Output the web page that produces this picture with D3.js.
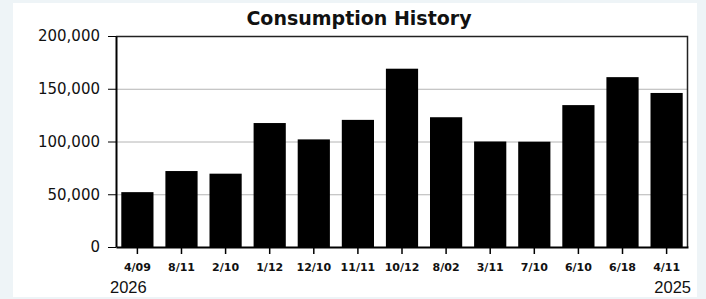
<!DOCTYPE html>
<html>
<head>
<meta charset="utf-8">
<script src="https://cdn.jsdelivr.net/npm/d3@7"></script>
<style>
  body { margin: 0; background: #eef4f7; }
  svg { display: block; }
</style>
</head>
<body>
<div id="chart"></div>
<script>
// periods, newest first
var periods = ['4/09', '8/11', '2/10', '1/12', '12/10', '11/11', '10/12', '8/02', '3/11', '7/10', '6/10', '6/18', '4/11'];
var usage = [52000, 72000, 69500, 117500, 102000, 120500, 169000, 123000, 100000, 99800, 134500, 161000, 146000];
var yTicks = [0, 50000, 100000, 150000, 200000];
var years = ['2026', '2025'];

var width = 706, height = 299;
var margin = {top: 36, right: 18, bottom: 52, left: 116};

var svg = d3.select('#chart').append('svg')
  .attr('width', width)
  .attr('height', height);

// white panel
svg.append('rect')
  .attr('x', 13).attr('y', 3)
  .attr('width', 684).attr('height', 294)
  .attr('fill', '#fff');

var x = d3.scaleBand()
  .domain(periods)
  .range([margin.left, width - margin.right])
  .paddingInner(0.27)
  .paddingOuter(0.12);

var y = d3.scaleLinear()
  .domain([0, 200000])
  .range([height - margin.bottom, margin.top]);

// grid
svg.append('g')
  .selectAll('line')
  .data(yTicks.slice(1, -1))
  .join('line')
  .attr('x1', margin.left).attr('x2', width - margin.right)
  .attr('y1', d => y(d) + 0.5).attr('y2', d => y(d) + 0.5)
  .attr('stroke', '#b4b4b4');

// bars
svg.append('g')
  .selectAll('rect')
  .data(usage)
  .join('rect')
  .attr('x', (d, i) => x(periods[i]))
  .attr('width', x.bandwidth())
  .attr('y', d => y(d))
  .attr('height', d => y(0) - y(d))
  .attr('fill', '#000');

// frame top/right
svg.append('path')
  .attr('d', 'M' + margin.left + ',' + (margin.top + 0.5) + 'H' + (width - margin.right - 0.5) + 'V' + y(0))
  .attr('fill', 'none')
  .attr('stroke', '#222')
  .attr('stroke-width', 1.5);

// y axis
var yAxis = svg.append('g')
  .attr('transform', 'translate(' + margin.left + ',0)')
  .call(d3.axisLeft(y).tickValues(yTicks).tickSize(8).tickSizeOuter(0)
    .tickFormat(d3.format(',')));
yAxis.select('.domain').attr('stroke-width', 2);
yAxis.selectAll('text')
  .attr('font-family', 'DejaVu Sans, sans-serif')
  .attr('font-size', 15)
  .attr('fill', '#111')
  .attr('dx', -5);

// x axis
var xAxis = svg.append('g')
  .attr('transform', 'translate(0,' + y(0) + ')')
  .call(d3.axisBottom(x).tickSize(7).tickSizeOuter(0));
xAxis.select('.domain').attr('stroke-width', 2);
xAxis.selectAll('.tick line').attr('stroke-width', 1.5);
xAxis.selectAll('text')
  .attr('font-family', 'DejaVu Sans, sans-serif')
  .attr('font-size', 11)
  .attr('font-weight', 'bold')
  .attr('fill', '#111')
  .attr('dy', '1.25em');

// year labels
svg.append('text')
  .attr('x', 110)
  .attr('y', 293)
  .attr('font-family', 'Liberation Sans, Arial, sans-serif')
  .attr('font-size', 16.5)
  .attr('fill', '#111')
  .text(years[0]);

svg.append('text')
  .attr('x', 691)
  .attr('y', 293)
  .attr('text-anchor', 'end')
  .attr('font-family', 'Liberation Sans, Arial, sans-serif')
  .attr('font-size', 16.5)
  .attr('fill', '#111')
  .text(years[1]);

// title
svg.append('text')
  .attr('x', 359)
  .attr('y', 25)
  .attr('text-anchor', 'middle')
  .attr('font-family', 'DejaVu Sans, sans-serif')
  .attr('font-size', 19)
  .attr('font-weight', 'bold')
  .attr('fill', '#111')
  .text('Consumption History');
</script>
</body>
</html>
